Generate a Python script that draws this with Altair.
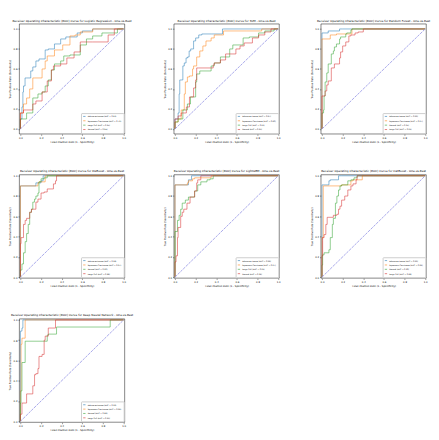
import altair as alt
import pandas as pd

COLORS = ["#1f77b4", "#ff7f0e", "#2ca02c", "#d62728"]
DIAG_COLOR = "#9a9ae6"

MODELS = ["Logistic Regression", "SVM", "Random Forest", "XGBoost",
          "LightGBM", "CatBoost", "Deep Neural Network"]

# legend class names per panel (legend order = blue, orange, green, red)
NAMES_A = ["Adenocarcinoma", "Squamous Carcinoma", "Large Cell", "Normal"]
NAMES_B = ["Adenocarcinoma", "Squamous Carcinoma", "Normal", "Large Cell"]
PANEL_NAMES = [NAMES_A, NAMES_A, NAMES_B, NAMES_B, NAMES_A, NAMES_B, NAMES_B]

PANEL_AUCS = [
    [0.83, 0.79, 0.65, 0.64],
    [0.87, 0.80, 0.63, 0.63],
    [0.99, 0.97, 0.95, 0.91],
    [0.98, 0.97, 0.90, 0.88],
    [0.98, 0.97, 0.91, 0.92],
    [0.99, 0.96, 0.90, 0.88],
    [0.99, 0.98, 0.88, 0.83],
]

# ROC curves (FPR, TPR)
LR_C0 = [(0, 0), (0.015, 0.1), (0.024, 0.22), (0.03, 0.37), (0.045, 0.43), (0.06, 0.51), (0.1, 0.51),
         (0.12, 0.58), (0.15, 0.62), (0.18, 0.68), (0.24, 0.70), (0.27, 0.79), (0.33, 0.80), (0.39, 0.85),
         (0.44, 0.9), (0.55, 0.92), (0.6, 0.96), (0.7, 0.98), (0.95, 1.0), (1, 1)]
LR_C1 = [(0, 0), (0.03, 0.16), (0.06, 0.25), (0.09, 0.31), (0.12, 0.4), (0.14, 0.51), (0.21, 0.51),
         (0.24, 0.6), (0.26, 0.68), (0.33, 0.73), (0.41, 0.79), (0.48, 0.84), (0.53, 0.93), (0.58, 0.94),
         (0.7, 0.97), (0.95, 1.0), (1, 1)]
LR_C2 = [(0, 0), (0.06, 0.1), (0.12, 0.16), (0.17, 0.31), (0.21, 0.35), (0.24, 0.37), (0.27, 0.43),
         (0.3, 0.49), (0.33, 0.59), (0.39, 0.65), (0.42, 0.68), (0.48, 0.73), (0.58, 0.74), (0.64, 0.84),
         (0.7, 0.9), (0.79, 0.93), (0.94, 0.96), (1, 1)]
LR_C3 = [(0, 0), (0.03, 0.16), (0.06, 0.19), (0.12, 0.19), (0.15, 0.25), (0.21, 0.28), (0.26, 0.37),
         (0.3, 0.48), (0.32, 0.59), (0.39, 0.63), (0.45, 0.65), (0.52, 0.71), (0.58, 0.77), (0.7, 0.87),
         (0.85, 0.87), (0.91, 0.94), (1, 1)]

SVM_C0 = [(0, 0), (0.03, 0.1), (0.04, 0.16), (0.046, 0.35), (0.052, 0.49), (0.076, 0.49), (0.09, 0.63),
          (0.107, 0.66), (0.122, 0.71), (0.137, 0.72), (0.152, 0.78), (0.18, 0.8), (0.2, 0.88), (0.23, 0.91),
          (0.26, 0.94), (0.35, 0.95), (0.46, 0.95), (0.47, 1.0), (1, 1)]
SVM_C1 = [(0, 0), (0.03, 0.07), (0.06, 0.1), (0.09, 0.19), (0.1, 0.35), (0.12, 0.47), (0.14, 0.52),
          (0.17, 0.53), (0.18, 0.6), (0.21, 0.63), (0.24, 0.72), (0.27, 0.78), (0.3, 0.83), (0.35, 0.88),
          (0.38, 0.91), (0.47, 0.94), (0.69, 0.98), (0.84, 0.98), (0.87, 1.0), (1, 1)]
SVM_C2 = [(0, 0), (0.03, 0.07), (0.076, 0.1), (0.12, 0.19), (0.15, 0.25), (0.2, 0.32), (0.21, 0.47),
          (0.24, 0.55), (0.35, 0.58), (0.38, 0.63), (0.44, 0.66), (0.53, 0.72), (0.56, 0.8), (0.66, 0.84),
          (0.72, 0.91), (0.81, 0.92), (0.87, 0.96), (0.96, 0.98), (1, 1)]
SVM_C3 = [(0, 0), (0.03, 0.1), (0.06, 0.13), (0.11, 0.16), (0.14, 0.22), (0.18, 0.32), (0.2, 0.41),
          (0.21, 0.49), (0.23, 0.61), (0.37, 0.61), (0.38, 0.64), (0.44, 0.66), (0.49, 0.69), (0.59, 0.75),
          (0.63, 0.8), (0.67, 0.83), (0.75, 0.86), (0.81, 0.91), (0.87, 0.94), (0.93, 0.97), (1, 1)]

RF_C0 = [(0, 0), (0, 0.96), (0.06, 0.96), (0.06, 0.98), (0.17, 0.98), (0.2, 1), (1, 1)]
RF_C1 = [(0, 0), (0.01, 0.9), (0.08, 0.9), (0.11, 0.94), (0.14, 0.94), (0.15, 0.95), (0.29, 0.95),
         (0.31, 1), (1, 1)]
RF_C2 = [(0, 0), (0.015, 0.16), (0.02, 0.19), (0.03, 0.33), (0.046, 0.47), (0.06, 0.56), (0.09, 0.65),
         (0.11, 0.75), (0.12, 0.78), (0.14, 0.82), (0.17, 0.85), (0.18, 0.9), (0.23, 0.92), (0.24, 0.95),
         (0.28, 0.96), (0.29, 0.99), (0.34, 1), (1, 1)]
RF_C3 = [(0, 0), (0, 0.33), (0.03, 0.33), (0.046, 0.38), (0.06, 0.44), (0.09, 0.48), (0.12, 0.61),
         (0.17, 0.65), (0.18, 0.71), (0.2, 0.77), (0.23, 0.83), (0.26, 0.87), (0.28, 0.93), (0.32, 0.94),
         (0.35, 0.96), (0.4, 0.97), (0.43, 1), (1, 1)]

XGB_C0 = [(0, 0), (0, 0.88), (0.15, 0.9), (0.2, 0.93), (0.22, 0.95), (0.26, 1), (1, 1)]
XGB_C1 = [(0, 0), (0, 0.9), (0.17, 0.9), (0.18, 0.93), (0.24, 0.94), (0.26, 1), (1, 1)]
XGB_C2 = [(0, 0), (0.015, 0.07), (0.03, 0.13), (0.046, 0.24), (0.06, 0.35), (0.076, 0.43), (0.09, 0.52),
          (0.107, 0.64), (0.12, 0.67), (0.137, 0.74), (0.15, 0.77), (0.17, 0.8), (0.18, 0.83), (0.2, 0.94),
          (0.23, 0.97), (0.26, 0.98), (0.27, 1), (1, 1)]
XGB_C3 = [(0, 0), (0.006, 0.33), (0.03, 0.39), (0.046, 0.52), (0.06, 0.56), (0.09, 0.58), (0.107, 0.64),
          (0.15, 0.67), (0.17, 0.74), (0.2, 0.77), (0.23, 0.83), (0.26, 0.84), (0.32, 0.87), (0.34, 0.92),
          (0.35, 0.95), (0.38, 1), (1, 1)]

LGB_C0 = [(0, 0), (0, 0.9), (0.13, 0.91), (0.16, 0.96), (0.18, 1), (1, 1)]
LGB_C1 = [(0, 0), (0, 0.91), (0.12, 0.91), (0.13, 0.93), (0.17, 0.95), (0.19, 0.97), (0.35, 0.98),
          (0.38, 1), (1, 1)]
LGB_C2 = [(0, 0), (0, 0.36), (0.024, 0.45), (0.04, 0.56), (0.055, 0.61), (0.07, 0.67), (0.1, 0.73),
          (0.13, 0.76), (0.19, 0.79), (0.22, 0.85), (0.25, 0.91), (0.31, 0.94), (0.34, 0.96), (0.37, 0.97),
          (0.4, 1), (1, 1)]
LGB_C3 = [(0, 0), (0.01, 0.15), (0.024, 0.21), (0.03, 0.39), (0.055, 0.49), (0.07, 0.6), (0.085, 0.64),
          (0.116, 0.67), (0.146, 0.73), (0.19, 0.79), (0.21, 0.85), (0.22, 0.93), (0.25, 0.96), (0.27, 1),
          (1, 1)]

CB_C0 = [(0, 0), (0.02, 0.91), (0.067, 0.91), (0.08, 0.95), (0.16, 0.96), (0.19, 1), (1, 1)]
CB_C1 = [(0, 0), (0, 0.39), (0.012, 0.39), (0.012, 0.9), (0.19, 0.9), (0.28, 0.91), (0.3, 0.95),
         (0.39, 0.96), (0.5, 1), (1, 1)]
CB_C2 = [(0, 0), (0.006, 0.12), (0.02, 0.22), (0.067, 0.24), (0.08, 0.27), (0.1, 0.39), (0.11, 0.52),
         (0.13, 0.58), (0.144, 0.73), (0.16, 0.8), (0.174, 0.86), (0.19, 0.9), (0.25, 0.91), (0.28, 0.95),
         (0.31, 0.96), (0.34, 0.98), (0.5, 1), (1, 1)]
CB_C3 = [(0, 0), (0.006, 0.21), (0.006, 0.36), (0.02, 0.39), (0.037, 0.42), (0.05, 0.52), (0.067, 0.59),
         (0.11, 0.59), (0.144, 0.61), (0.16, 0.62), (0.174, 0.67), (0.19, 0.7), (0.22, 0.76), (0.25, 0.8),
         (0.28, 0.86), (0.3, 0.9), (0.33, 0.92), (0.34, 0.96), (0.39, 1), (1, 1)]

DNN_C0 = [(0, 0), (0, 0.89), (0.015, 0.89), (0.015, 0.92), (0.024, 0.92), (0.03, 1), (1, 1)]
DNN_C1 = [(0, 0), (0.006, 0.3), (0.006, 0.76), (0.015, 0.76), (0.03, 0.82), (0.046, 0.82), (0.052, 1),
          (1, 1)]
DNN_C2 = [(0, 0), (0, 0.12), (0.006, 0.18), (0.015, 0.3), (0.015, 0.58), (0.046, 0.58), (0.046, 0.79),
          (0.26, 0.79), (0.27, 0.85), (0.35, 0.86), (0.35, 0.93), (0.87, 0.93), (0.87, 1), (1, 1)]
DNN_C3 = [(0, 0), (0, 0.07), (0.015, 0.07), (0.024, 0.18), (0.06, 0.18), (0.076, 0.27), (0.12, 0.27),
          (0.137, 0.35), (0.15, 0.46), (0.17, 0.47), (0.18, 0.52), (0.21, 0.64), (0.23, 0.66), (0.24, 0.8),
          (0.27, 0.84), (0.27, 0.92), (0.34, 0.92), (0.34, 1), (1, 1)]

PANEL_CURVES = [
    [LR_C0, LR_C1, LR_C2, LR_C3],
    [SVM_C0, SVM_C1, SVM_C2, SVM_C3],
    [RF_C0, RF_C1, RF_C2, RF_C3],
    [XGB_C0, XGB_C1, XGB_C2, XGB_C3],
    [LGB_C0, LGB_C1, LGB_C2, LGB_C3],
    [CB_C0, CB_C1, CB_C2, CB_C3],
    [DNN_C0, DNN_C1, DNN_C2, DNN_C3],
]

DIAG = [(0, 0), (1, 1)]
TICKS = [0.0, 0.2, 0.4, 0.6, 0.8, 1.0]


def panel(model, names, aucs, curves, width, height, ydom):
    labels = [f"{n} (AUC = {a:.2f})" for n, a in zip(names, aucs)]
    rows = []
    for lab, pts in zip(labels, curves):
        for i, (fx, ty) in enumerate(pts):
            rows.append({"fpr": fx, "tpr": ty, "cls": lab, "i": i})
    df = pd.DataFrame(rows)
    ddf = pd.DataFrame([{"fpr": a, "tpr": b} for a, b in DIAG])

    xs = alt.Scale(domain=[-0.01, 1.01], nice=False, zero=False)
    ys = alt.Scale(domain=ydom, nice=False, zero=False)
    xax = alt.Axis(values=TICKS, format=".1f", title="False Positive Rate (1 - Specificity)")
    yax = alt.Axis(values=TICKS, format=".1f", title="True Positive Rate (Sensitivity)")

    diag = alt.Chart(ddf).mark_line(color=DIAG_COLOR, strokeWidth=0.9, strokeDash=[3, 1]).encode(
        x=alt.X("fpr:Q", scale=xs, axis=xax),
        y=alt.Y("tpr:Q", scale=ys, axis=yax),
    )
    lines = alt.Chart(df).mark_line(interpolate="step-before", strokeWidth=0.9, opacity=0.6).encode(
        x=alt.X("fpr:Q", scale=xs, axis=xax),
        y=alt.Y("tpr:Q", scale=ys, axis=yax),
        color=alt.Color("cls:N", scale=alt.Scale(domain=labels, range=COLORS),
                        legend=alt.Legend(title=None, orient="bottom-right")),
        order=alt.Order("i:Q"),
        detail="cls:N",
    )
    title = f"Receiver Operating Characteristic (ROC) Curve for {model} - One-vs-Rest"
    return alt.layer(lines, diag).properties(width=width, height=height, title=title)


panels = []
for k, model in enumerate(MODELS):
    if k < 3:
        h, yd = 116, [-0.05, 1.05]
    else:
        h, yd = 109, [-0.01, 1.01]
    panels.append(panel(model, PANEL_NAMES[k], PANEL_AUCS[k], PANEL_CURVES[k], 111, h, yd))

chart = alt.concat(*panels, columns=3, spacing={"row": 27, "column": 30}).resolve_scale(
    color="independent"
).properties(
    padding={"left": 0, "top": 0, "right": 0, "bottom": 0}
).configure_view(
    stroke="#000", strokeWidth=0.5
).configure_axis(
    grid=False, domain=False, labelFontSize=2.6, titleFontSize=2.7, titleFontWeight="normal",
    tickSize=1.5, tickWidth=0.4, tickColor="#000", labelColor="#000", titleColor="#000",
    labelPadding=1, titlePadding=1.5, labelFont="DejaVu Sans", titleFont="DejaVu Sans"
).configure_title(
    fontSize=3, fontWeight="normal", font="DejaVu Sans", offset=1.5, color="#000"
).configure_legend(
    labelFontSize=2.0, labelFont="DejaVu Sans", symbolType="stroke", symbolSize=6, symbolStrokeWidth=1,
    rowPadding=0.6, padding=1.5, offset=1.5, strokeColor="#cccccc", fillColor="white",
    cornerRadius=0.5, labelLimit=300, symbolOpacity=0.6, labelOffset=1.5
)

chart.save("out.html", embed_options={"renderer": "svg", "actions": False})
